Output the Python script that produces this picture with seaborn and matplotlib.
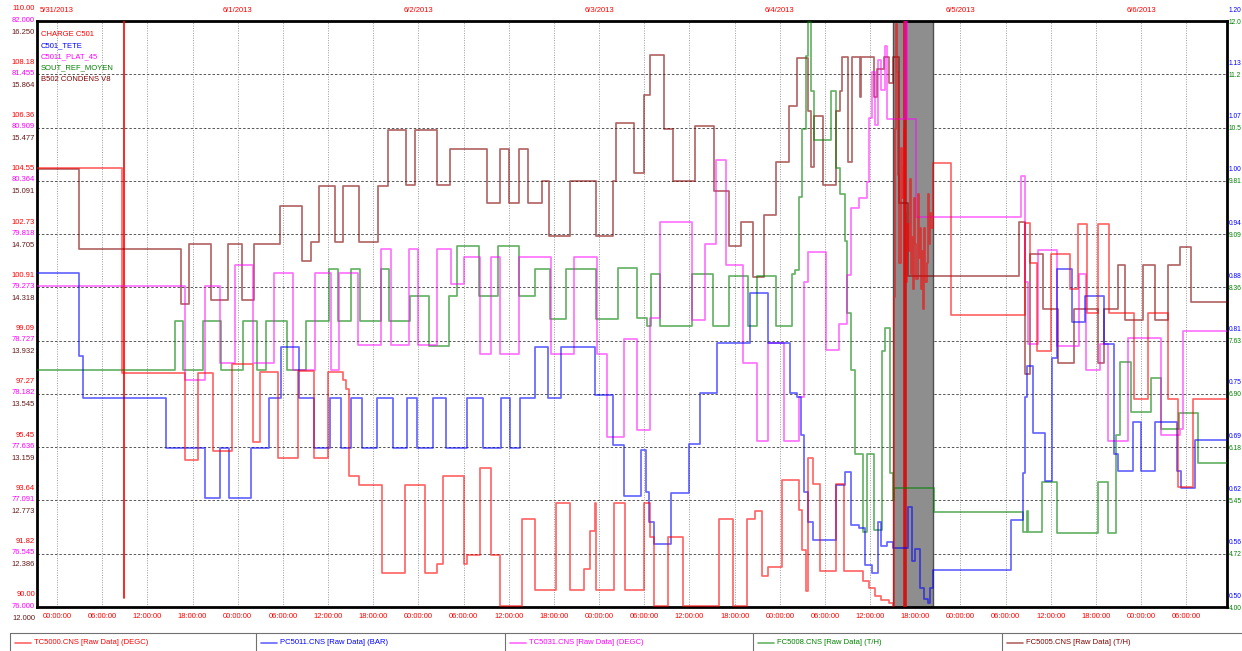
import numpy as np
import pandas as pd
import matplotlib
matplotlib.use('Agg')
import matplotlib.pyplot as plt
import seaborn as sns
from matplotlib.lines import Line2D

# time axis: hours from 5/31/2013 00:00
tc5000_t = [-2.66, 8.6, 17.0, 18.7, 20.7, 23.3, 26.0, 27.0, 29.4, 32.0, 34.1, 36.0, 38.0, 38.4, 38.8, 40.1,
            43.2, 46.2, 48.9, 50.5, 51.3, 54.1, 54.5, 56.2, 57.6, 58.9, 61.7, 63.5, 66.3, 68.1, 70.0, 70.8,
            71.5, 71.6, 74.0, 75.5, 78.0, 78.7, 79.3, 81.2, 83.1, 87.9, 89.8, 91.6, 92.7, 93.6, 94.5, 96.3,
            98.5, 99.0, 99.5, 99.8, 100.4, 101.4, 103.5, 104.5, 107.1, 107.8, 108.6, 109.5, 110.5, 111.1,
            111.15, 111.3, 111.45, 111.6, 111.75, 111.9, 112.05, 112.2, 112.35, 112.5, 112.65, 112.8, 112.95,
            113.1, 113.25, 113.4, 113.55, 113.7, 113.85, 114.0, 114.15, 114.3, 114.45, 114.6, 114.75, 114.9,
            115.05, 115.2, 115.35, 115.5, 115.65, 115.8, 115.95, 116.1, 116.3, 118.7, 128.6, 129.3, 130.1,
            132.0, 134.5, 135.6, 136.8, 138.2, 139.7, 143.0, 144.9, 147.6, 148.9, 150.9, 155.4]
tc5000_v = [105.0, 97.98, 95.02, 97.98, 95.31, 98.29, 95.62, 98.02, 95.07, 98.07, 95.07, 98.02, 97.76, 97.44, 94.47, 94.15,
            91.15, 94.15, 91.15, 91.47, 94.47, 91.47, 91.76, 94.73, 91.76, 90.02, 93.0, 90.58, 93.55, 90.58, 91.3, 92.6,
            93.55, 90.58, 93.55, 90.58, 93.55, 92.4, 90.02, 92.38, 90.02, 93.0, 90.02, 93.0, 93.29, 91.07, 91.36, 94.33,
            93.3, 91.96, 90.53, 95.09, 94.2, 91.24, 94.2, 91.24, 90.9, 90.65, 90.39, 90.25, 90.13, 90.02,
            100.57, 106.31, 109.9, 108.27, 104.75, 101.75, 105.65, 103.96, 105.01, 106.31, 103.44, 101.09, 103.08,
            102.14, 104.62, 101.36, 102.63, 100.87, 103.96, 102.4, 101.2, 104.1, 101.9, 102.93, 100.87, 102.14,
            100.18, 102.93, 101.09, 101.75, 104.1, 102.4, 103.44, 102.93, 105.14, 99.98, 103.11, 101.75, 98.75,
            102.05, 100.86, 103.08, 100.05, 103.08, 100.05, 97.09, 100.05, 97.09, 94.09, 97.09, 97.09]

pc5011_t = [-2.66, 2.9, 3.5, 14.5, 19.6, 21.6, 22.9, 25.8, 28.1, 29.7, 32.1, 34.1, 36.2, 37.7, 39.1, 40.5, 42.5,
            44.6, 46.5, 47.8, 50.0, 51.7, 54.4, 56.6, 59.0, 60.1, 61.5, 63.5, 65.2, 66.9, 71.4, 73.8, 75.3, 77.6,
            78.2, 78.6, 79.3, 81.5, 83.9, 85.4, 87.7, 92.0, 94.5, 97.3, 98.3, 98.8, 99.2, 99.8, 100.4, 103.4,
            104.7, 105.4, 106.5, 107.3, 108.3, 109.0, 109.5, 110.3, 111.1, 113.0, 113.5, 113.9, 114.6, 115.2,
            115.7, 116.0, 116.3, 126.7, 128.3, 128.6, 128.9, 129.6, 131.2, 132.1, 132.8, 134.8, 136.5, 139.0,
            140.4, 140.9, 142.9, 144.0, 145.9, 148.8, 149.3, 151.2, 155.4]
pc5011_v = [0.899, 0.800, 0.750, 0.690, 0.630, 0.690, 0.630, 0.690, 0.750, 0.810, 0.750, 0.690, 0.750, 0.690, 0.750, 0.690, 0.750,
            0.690, 0.750, 0.690, 0.750, 0.690, 0.750, 0.690, 0.750, 0.690, 0.750, 0.810, 0.750, 0.810, 0.753, 0.693, 0.632, 0.687,
            0.637, 0.601, 0.575, 0.636, 0.695, 0.756, 0.815, 0.875, 0.815, 0.756, 0.751, 0.706, 0.637, 0.601, 0.580, 0.646,
            0.661, 0.598, 0.594, 0.550, 0.541, 0.601, 0.573, 0.578, 0.571, 0.619, 0.555, 0.569, 0.523, 0.509,
            0.505, 0.523, 0.544, 0.604, 0.660, 0.751, 0.788, 0.708, 0.650, 0.797, 0.904, 0.840, 0.872, 0.814,
            0.683, 0.662, 0.721, 0.662, 0.721, 0.662, 0.642, 0.700, 0.700]

tc5031_t = [-2.66, 17.0, 19.6, 21.7, 23.7, 26.0, 28.8, 31.4, 34.3, 36.4, 37.4, 40.0, 43.0, 44.4, 46.7, 48.0, 50.5,
            52.3, 54.0, 56.2, 57.6, 58.8, 61.3, 65.6, 68.7, 71.7, 73.0, 75.3, 77.1, 78.7, 80.1, 84.4, 86.1, 87.5,
            88.9, 91.1, 93.0, 94.4, 96.5, 98.5, 99.2, 99.8, 102.1, 103.8, 104.9, 105.4, 106.5, 107.6, 107.9,
            108.3, 108.7, 109.1, 109.5, 110.0, 110.3, 112.6, 112.9, 114.1, 128.0, 128.6, 129.0, 130.3, 132.8,
            135.7, 136.7, 138.5, 139.6, 142.2, 146.7, 149.1, 149.6, 155.4]
tc5031_v = [79.29, 78.32, 79.29, 78.50, 79.50, 78.50, 79.42, 78.43, 79.42, 78.43, 79.42, 78.68, 79.67, 78.68, 79.67, 78.68, 79.67,
            79.31, 79.58, 78.59, 79.58, 78.59, 79.58, 78.59, 79.58, 78.59, 77.74, 78.74, 77.81, 78.96, 79.94, 78.94, 79.72, 80.58,
            79.50, 78.50, 77.70, 78.70, 77.70, 78.15, 79.33, 79.63, 78.63, 78.90, 79.40, 80.09, 80.19, 80.35, 81.01,
            81.48, 80.94, 81.60, 81.29, 81.74, 81.00, 82.0, 81.00, 79.99, 80.41, 79.33, 78.69, 79.66, 78.67,
            79.41, 78.43, 78.69, 77.70, 78.75, 77.76, 77.82, 78.83, 78.83]

fc5008_t = [-2.66, 15.7, 16.7, 19.4, 21.8, 24.7, 26.6, 27.7, 30.6, 33.1, 36.1, 37.3, 39.1, 40.2, 43.0, 44.1, 46.9,
            49.4, 52.0, 53.1, 56.1, 58.6, 61.4, 63.5, 65.5, 67.6, 71.6, 74.5, 77.1, 78.3, 78.9, 80.1, 84.4, 87.1,
            89.3, 91.8, 93.0, 95.5, 97.6, 98.0, 98.6, 99.0, 99.5, 99.8, 100.1, 100.5, 102.85, 103.5, 103.95,
            104.7, 104.9, 105.4, 106.0, 107.1, 107.6, 108.5, 109.6, 110.0, 110.7, 111.1, 111.2, 116.5, 128.3,
            128.8, 129.0, 130.8, 132.8, 138.2, 139.6, 140.7, 141.2, 142.7, 145.3, 146.7, 149.0, 151.6, 155.4]
fc5008_v = [7.23, 7.91, 7.23, 7.91, 7.23, 7.91, 7.23, 7.91, 7.23, 7.91, 8.61, 7.91, 8.61, 7.91, 8.61, 7.91, 8.24,
            7.56, 8.24, 8.93, 8.24, 8.93, 8.24, 8.62, 7.93, 8.62, 7.93, 8.63, 7.94, 7.84, 8.55, 7.84, 8.55, 7.84,
            8.52, 7.84, 8.52, 7.84, 8.55, 8.60, 9.60, 10.53, 11.52, 11.99, 11.05, 10.37, 11.05, 10.00, 9.64,
            8.99, 8.02, 7.24, 6.09, 5.02, 6.09, 5.05, 7.50, 7.81, 5.83, 5.46, 5.63, 5.30, 5.02,
            5.31, 5.02, 5.71, 5.01, 5.71, 5.01, 6.35, 7.35, 6.66, 7.12, 6.43, 6.65, 5.96, 5.96]

fc5005_t = [-2.66, 2.9, 16.5, 17.5, 20.4, 22.7, 24.6, 26.1, 29.6, 32.5, 33.7, 34.8, 36.9, 38.0, 40.1, 42.6, 43.9,
            46.4, 47.5, 50.5, 52.2, 57.1, 58.8, 60.0, 61.3, 62.6, 64.4, 65.4, 68.1, 71.6, 73.8, 74.3, 76.7, 78.0,
            78.7, 80.6, 81.8, 84.7, 87.3, 89.3, 90.8, 92.5, 93.9, 95.5, 97.2, 98.3, 99.7, 100.1, 100.5, 101.8,
            103.5, 104.0, 104.3, 105.0, 105.6, 106.6, 106.8, 108.5, 108.9, 109.8, 110.5, 111.05, 111.9, 113.0,
            127.8, 128.6, 129.3, 131.0, 132.9, 135.1, 138.2, 139.1, 140.9, 141.9, 144.3, 145.8, 147.6, 149.1,
            150.6, 155.4]
fc5005_v = [15.18, 14.60, 14.20, 14.63, 14.23, 14.63, 14.23, 14.63, 14.91, 14.51, 14.65, 15.05, 14.65, 15.05, 14.65, 15.05, 15.46,
            15.06, 15.46, 15.06, 15.32, 14.93, 15.32, 14.93, 15.32, 14.93, 15.09, 14.69, 15.09, 14.69, 15.09, 15.51, 15.15, 15.71,
            16.0, 15.47, 15.09, 15.49, 15.02, 14.62, 14.79, 14.39, 14.84, 15.23, 15.63, 15.98, 15.60, 15.19, 15.56, 15.06,
            15.60, 15.74, 15.99, 15.23, 15.99, 15.70, 15.99, 15.70, 15.90, 15.99, 15.80, 15.99, 14.93, 14.40,
            14.79, 13.69, 14.56, 14.16, 13.77, 14.16, 13.77, 14.16, 14.48, 14.08, 14.48, 14.08, 14.48, 14.61,
            14.21, 14.21]

labels_tc5000 = ['110.00', '108.18', '106.36', '104.55', '102.73', '100.91', '99.09', '97.27', '95.45', '93.64', '91.82', '90.00']
labels_tc5031 = ['82.000', '81.455', '80.909', '80.364', '79.818', '79.273', '78.727', '78.182', '77.636', '77.091', '76.545', '76.000']
labels_fc5005 = ['16.250', '15.864', '15.477', '15.091', '14.705', '14.318', '13.932', '13.545', '13.159', '12.773', '12.386', '12.000']
labels_pc5011 = ['1.20', '1.13', '1.07', '1.00', '0.94', '0.88', '0.81', '0.75', '0.69', '0.62', '0.56', '0.50']
labels_fc5008 = ['12.0', '11.2', '10.5', '9.81', '9.09', '8.36', '7.63', '6.90', '6.18', '5.45', '4.72', '4.00']
date_labels = ['5/31/2013', '6/1/2013', '6/2/2013', '6/3/2013', '6/4/2013', '6/5/2013', '6/6/2013']
time_labels = ['00:00:00', '06:00:00', '12:00:00', '18:00:00']
names = ['CHARGE C501', 'C501_TETE', 'C5011_PLAT_45', 'SOUT_REF_MOYEN', 'B502 CONDENS V8']
legend_names = ['TC5000.CNS [Raw Data] (DEGC)', 'PC5011.CNS [Raw Data] (BAR)', 'TC5031.CNS [Raw Data] (DEGC)',
                'FC5008.CNS [Raw Data] (T/H)', 'FC5005.CNS [Raw Data] (T/H)']

sns.set_style('white')
plt.rcParams['font.family'] = ['Liberation Sans', 'DejaVu Sans']
FS = 5.5

RED, BLUE, MAG, GRN, BRN = '#ff0000', '#0000ff', '#ff00ff', '#008000', '#800000'
BRN_T = '#661a1a'

W, H = 1242, 651
L0, R0, T0, B0 = 37, 1227, 21, 607
fig = plt.figure(figsize=(W / 100, H / 100), dpi=100)
ax = fig.add_axes([L0 / W, 1 - B0 / H, (R0 - L0) / W, (B0 - T0) / H])
xmin, xmax = -2.66, 155.4

# grid / frame on main axis
ax.set_xlim(xmin, xmax)
ax.set_ylim(90, 110)
ax.set_yticks(np.linspace(90, 110, 12))
ax.set_xticks(np.arange(0, 156, 6))
ax.set_xticklabels([time_labels[i % 4] for i in range(len(np.arange(0, 156, 6)))],
                   color=RED, fontsize=FS)
ax.tick_params(axis='both', length=0, labelleft=False, pad=4)
ax.set_axisbelow(True)
ax.grid(axis='y', color='#555555', ls=(0, (2.5, 2)), lw=0.7)
ax.grid(axis='x', color='#9a9a9a', ls=(0, (1, 1.5)), lw=0.7)
for sp in ax.spines.values():
    sp.set_linewidth(2)
    sp.set_color('black')

# gray selection region and cursors
ax.axvspan(111.1, 116.3, facecolor='#8e8e8e', edgecolor='#505050', lw=1, zorder=0.8)
ax.axvline(8.95, ymin=0.015, ymax=1, color=RED, lw=1.2, zorder=3)
ax.axvline(112.65, color='#dd0000', lw=2.6, alpha=0.85, zorder=3)


def draw(axis, t, v, color, alpha=0.6):
    df = pd.DataFrame({'t': t, 'v': v})
    sns.lineplot(data=df, x='t', y='v', ax=axis, color=color, lw=1.25, alpha=alpha,
                 estimator=None, sort=False, drawstyle='steps-post', legend=False)
    axis.set_xlabel('')
    axis.set_ylabel('')


def twin(ylim):
    tw = ax.twinx()
    tw.set_ylim(*ylim)
    tw.set_xlim(xmin, xmax)
    tw.set_yticks([])
    for sp in tw.spines.values():
        sp.set_visible(False)
    return tw


ax_brn = twin((12, 16.25))
draw(ax_brn, fc5005_t, fc5005_v, BRN, 0.6)
ax_grn = twin((4, 12))
draw(ax_grn, fc5008_t, fc5008_v, GRN, 0.6)
ax_mag = twin((76, 82))
draw(ax_mag, tc5031_t, tc5031_v, MAG, 0.55)
ax_blu = twin((0.5, 1.2))
draw(ax_blu, pc5011_t, pc5011_v, BLUE, 0.6)
ax_red = twin((90, 110))
draw(ax_red, tc5000_t, tc5000_v, RED, 0.6)
for a in (ax_brn, ax_grn, ax_mag, ax_blu, ax_red):
    a.set_xlim(xmin, xmax)
    a.set_yticks([])

# axis value labels
FSR = 4.8
for i in range(12):
    gy = T0 + i * (B0 - T0) / 11.0
    fig.text(35 / W, 1 - (gy - 12) / H, labels_tc5000[i], color=RED, fontsize=FS, ha='right', va='center')
    fig.text(35 / W, 1 - (gy - 1) / H, labels_tc5031[i], color=MAG, fontsize=FS, ha='right', va='center')
    fig.text(35 / W, 1 - (gy + 11) / H, labels_fc5005[i], color=BRN_T, fontsize=FS, ha='right', va='center')
    fig.text(1228.5 / W, 1 - (gy - 11) / H, labels_pc5011[i], color=BLUE, fontsize=FSR, ha='left', va='center')
    fig.text(1228.5 / W, 1 - (gy + 1) / H, labels_fc5008[i], color=GRN, fontsize=FSR, ha='left', va='center')

# date labels on top
for d, lab in enumerate(date_labels):
    ax.annotate(lab, xy=(24 * d, 1), xycoords=('data', 'axes fraction'), xytext=(0, 11),
                textcoords='offset pixels', ha='center', va='center', color=RED, fontsize=FS)

# in-plot names
for i, (nm, c) in enumerate(zip(names, [RED, BLUE, MAG, GRN, BRN])):
    ax_red.text(4 / (R0 - L0), 1 - (13 + 11.3 * i) / (B0 - T0), nm, transform=ax_red.transAxes,
                color=c, fontsize=FS, ha='left', va='center')

# bottom legend boxes
box_x = [10, 256, 505, 753, 1002]
top_y = 633
fig.add_artist(Line2D([10 / W, 1], [1 - top_y / H] * 2, transform=fig.transFigure, color='#707070', lw=0.8))
for bx, nm, c in zip(box_x, legend_names, [RED, BLUE, MAG, GRN, BRN]):
    fig.add_artist(Line2D([bx / W] * 2, [1 - top_y / H, 0], transform=fig.transFigure, color='#707070', lw=0.8))
    fig.add_artist(Line2D([(bx + 5) / W, (bx + 21) / W], [1 - 643 / H] * 2, transform=fig.transFigure,
                          color=c, lw=1.2, alpha=0.6))
    fig.text((bx + 24) / W, 1 - 643 / H, nm, color=c, fontsize=FS, ha='left', va='center')

fig.savefig('out.png', dpi=100, facecolor='white')
